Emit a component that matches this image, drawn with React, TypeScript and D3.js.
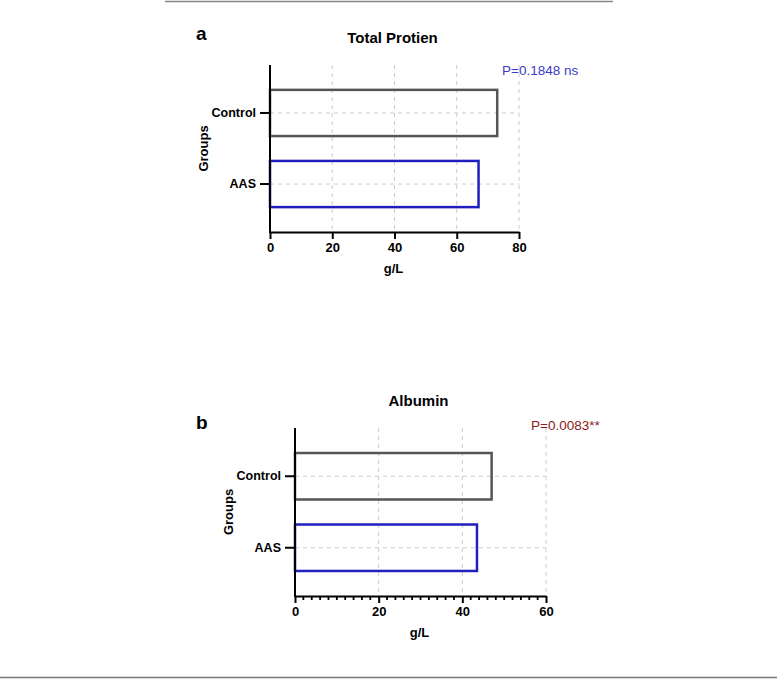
import React, { useEffect, useRef } from 'react';
import * as d3 from 'd3';

const groups = ['Control', 'AAS'];
const totalProtein = [73, 67];
const albumin = [47, 43.5];
const proteinTicks = [0, 20, 40, 60, 80];
const albuminTicks = [0, 20, 40, 60];

const barColors = ['#555555', '#1f1fbf'];

interface PanelSpec {
  letter: string;
  title: string;
  values: number[];
  ticks: number[];
  max: number;
  minorStep: number | null;
  pText: string;
  pColor: string;
  left: number;
  right: number;
  top: number;
  bottom: number;
  titleY: number;
  letterY: number;
  pX: number;
  pY: number;
}

const panels: PanelSpec[] = [
  {
    letter: 'a', title: 'Total Protien', values: totalProtein, ticks: proteinTicks, max: 80,
    minorStep: null, pText: 'P=0.1848 ns', pColor: '#3a3ac8',
    left: 270, right: 519, top: 65, bottom: 232, titleY: 43, letterY: 40, pX: 502, pY: 75,
  },
  {
    letter: 'b', title: 'Albumin', values: albumin, ticks: albuminTicks, max: 60,
    minorStep: 2, pText: 'P=0.0083**', pColor: '#8b1a1a',
    left: 295, right: 546, top: 428, bottom: 596, titleY: 406, letterY: 429, pX: 531, pY: 430,
  },
];

const font = '"Liberation Sans", Arial, sans-serif';

export default function App() {
  const svgRef = useRef<SVGSVGElement>(null);

  useEffect(() => {
    if (!svgRef.current) return;
    const svg = d3.select(svgRef.current);
    svg.selectAll('*').remove();

    svg.append('rect').attr('width', 777).attr('height', 680).attr('fill', 'white');

    // page rules
    svg.append('line').attr('x1', 165).attr('x2', 613).attr('y1', 1.5).attr('y2', 1.5)
      .attr('stroke', '#888').attr('stroke-width', 1.5);
    svg.append('line').attr('x1', 0).attr('x2', 777).attr('y1', 677.5).attr('y2', 677.5)
      .attr('stroke', '#777').attr('stroke-width', 1.5);

    panels.forEach(p => {
      const g = svg.append('g').style('font-family', font);
      const x = d3.scaleLinear().domain([0, p.max]).range([p.left, p.right]);
      const y = d3.scaleBand<string>().domain(groups).range([p.top, p.bottom])
        .paddingInner(0.35).paddingOuter(0.35);

      // grid
      g.selectAll('.vgrid').data(p.ticks.filter(t => t > 0)).enter().append('line')
        .attr('x1', d => x(d)).attr('x2', d => x(d))
        .attr('y1', p.top).attr('y2', p.bottom)
        .attr('stroke', '#cccccc').attr('stroke-width', 1).attr('stroke-dasharray', '4,4');
      g.selectAll('.hgrid').data(groups).enter().append('line')
        .attr('x1', p.left).attr('x2', p.right)
        .attr('y1', d => y(d)! + y.bandwidth() / 2).attr('y2', d => y(d)! + y.bandwidth() / 2)
        .attr('stroke', '#cccccc').attr('stroke-width', 1).attr('stroke-dasharray', '4,4');

      // bars
      g.selectAll('.bar').data(groups).enter().append('rect')
        .attr('x', x(0))
        .attr('y', d => y(d)!)
        .attr('width', (d, i) => x(p.values[i]) - x(0))
        .attr('height', y.bandwidth())
        .attr('fill', 'none')
        .attr('stroke', (d, i) => barColors[i])
        .attr('stroke-width', 2.5);

      // x axis
      const xAxis = g.append('g').attr('transform', `translate(0,${p.bottom})`)
        .call(d3.axisBottom(x).tickValues(p.ticks).tickSize(7).tickSizeOuter(0).tickPadding(4));
      xAxis.select('.domain').attr('stroke', '#000').attr('stroke-width', 2);
      xAxis.selectAll('.tick line').attr('stroke', '#000').attr('stroke-width', 2);
      xAxis.selectAll('.tick text').attr('font-size', 13).attr('font-weight', 'bold')
        .attr('fill', '#000').style('font-family', font);

      if (p.minorStep) {
        const minors = d3.range(0, p.max + 0.001, p.minorStep).filter(v => !p.ticks.includes(v));
        g.append('g').selectAll('line').data(minors).enter().append('line')
          .attr('x1', d => x(d)).attr('x2', d => x(d))
          .attr('y1', p.bottom).attr('y2', p.bottom + 4)
          .attr('stroke', '#000').attr('stroke-width', 1.8);
      }

      // y axis
      const yAxis = g.append('g').attr('transform', `translate(${p.left},0)`)
        .call(d3.axisLeft(y).tickSize(10).tickSizeOuter(0).tickPadding(4));
      yAxis.select('.domain').attr('stroke', '#000').attr('stroke-width', 2)
        .attr('d', `M0,${p.top}V${p.bottom + 1}`);
      yAxis.selectAll('.tick line').attr('stroke', '#000').attr('stroke-width', 2);
      yAxis.selectAll('.tick text').attr('font-size', 12.5).attr('font-weight', 'bold')
        .attr('fill', '#000').style('font-family', font);

      // labels
      g.append('text').attr('x', (p.left + p.right) / 2 - 2).attr('y', p.titleY)
        .attr('text-anchor', 'middle').attr('font-size', 15).attr('font-weight', 'bold').text(p.title);
      g.append('text').attr('x', 196).attr('y', p.letterY)
        .attr('font-size', 19).attr('font-weight', 'bold').text(p.letter);
      g.append('text').attr('x', p.pX).attr('y', p.pY)
        .attr('font-size', 13.5).attr('fill', p.pColor).text(p.pText);
      g.append('text').attr('x', (p.left + p.right) / 2 - 1).attr('y', p.bottom + 41)
        .attr('text-anchor', 'middle').attr('font-size', 13).attr('font-weight', 'bold').text('g/L');
      g.append('text')
        .attr('transform', `translate(${p.left - 62},${(p.top + p.bottom) / 2}) rotate(-90)`)
        .attr('text-anchor', 'middle').attr('font-size', 13).attr('font-weight', 'bold').text('Groups');
    });
  }, []);

  return (
    <svg ref={svgRef} width={777} height={680}
      style={{ position: 'absolute', left: 0, top: 0, display: 'block' }} />
  );
}
